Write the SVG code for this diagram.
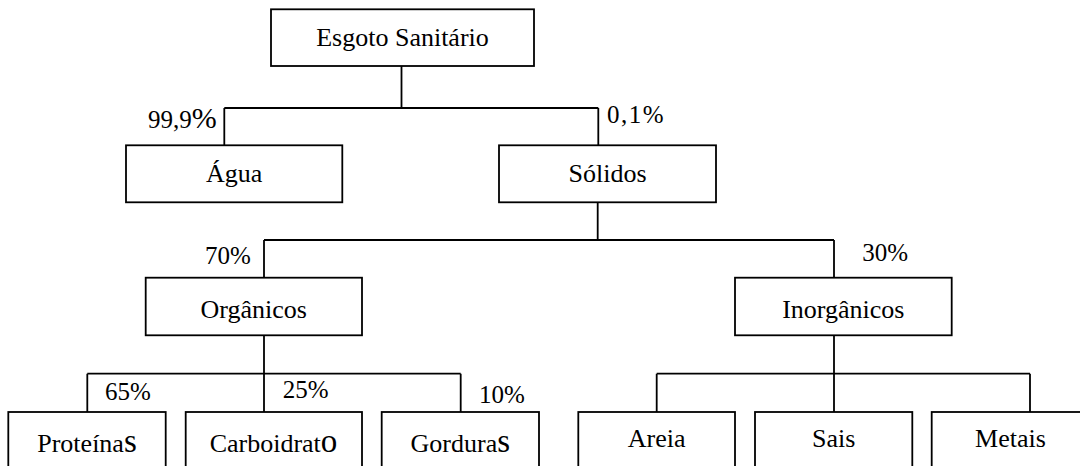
<svg xmlns="http://www.w3.org/2000/svg" width="1080" height="466" viewBox="0 0 1080 466">
<style>
.box{fill:#fff;stroke:#000;stroke-width:1.8}
.ln{fill:none;stroke:#000;stroke-width:1.8}
.t{font-family:"Liberation Serif","Times New Roman",serif;font-size:26px;fill:#000;text-anchor:middle}
.p{font-family:"Liberation Serif","Times New Roman",serif;font-size:25px;fill:#000}
.big{font-size:33px}
</style>
<rect width="1080" height="466" fill="#fff"/>
<g id="connectors">
<path class="ln" d="M401.5 66V108M224.3 108H598.3M224.3 108V145.3M598.3 108V145.3"/>
<path class="ln" d="M597.7 202.3V240M264 240H834M264 240V277.7M834 240V277.7"/>
<path class="ln" d="M264 335.3V373.7M87.3 373.7H460.7M87.3 373.7V412M264 373.7V412M460.7 373.7V412"/>
<path class="ln" d="M834 335.3V373.7M656.7 373.7H1030M656.7 373.7V412M834 373.7V412M1030 373.7V412"/>
<text class="p" x="148" y="128">99,9<tspan font-size="30">%</tspan></text>
<text class="p" x="607" y="123.3" font-size="27" letter-spacing="1.5">0,1%</text>
<text class="p" x="205" y="264.3">70%</text>
<text class="p" x="862.3" y="261">30%</text>
<text class="p" x="105" y="400">65%</text>
<text class="p" x="282.7" y="398.3">25%</text>
<text class="p" x="479" y="402.7">10%</text>
</g>
<g id="esgoto"><rect class="box" x="271" y="9.3" width="263" height="56.7"/><text class="t" x="402.5" y="45.6" font-size="27.5">Esgoto Sanitário</text></g>
<g id="agua"><rect class="box" x="126" y="145.3" width="216.3" height="57"/><text class="t" x="234.2" y="181.7">Água</text></g>
<g id="solidos"><rect class="box" x="499" y="145.3" width="217" height="57"/><text class="t" x="607.5" y="181.7">Sólidos</text></g>
<g id="organicos"><rect class="box" x="145.7" y="277.7" width="216.3" height="57.6"/><text class="t" x="253.8" y="317.7">Orgânicos</text></g>
<g id="inorganicos"><rect class="box" x="735" y="277.7" width="216.7" height="57.6"/><text class="t" x="843.3" y="317.7">Inorgânicos</text></g>
<g id="proteinas"><rect class="box" x="8.3" y="412" width="157.4" height="70"/><text class="t" x="87" y="451.7">Proteína<tspan class="big">s</tspan></text></g>
<g id="carboidrato"><rect class="box" x="185.7" y="412" width="176.3" height="70"/><text class="t" x="273.5" y="451.7">Carboidrat<tspan class="big">o</tspan></text></g>
<g id="gorduras"><rect class="box" x="381.7" y="412" width="157.3" height="70"/><text class="t" x="460.3" y="451.7">Gordura<tspan class="big">s</tspan></text></g>
<g id="areia"><rect class="box" x="578.3" y="412" width="156.7" height="70"/><text class="t" x="656.7" y="446.7">Areia</text></g>
<g id="sais"><rect class="box" x="755" y="412" width="157.3" height="70"/><text class="t" x="833.7" y="446.7">Sais</text></g>
<g id="metais"><rect class="box" x="931.7" y="412" width="157.3" height="70"/><text class="t" x="1010.5" y="446.7">Metais</text></g>
</svg>
